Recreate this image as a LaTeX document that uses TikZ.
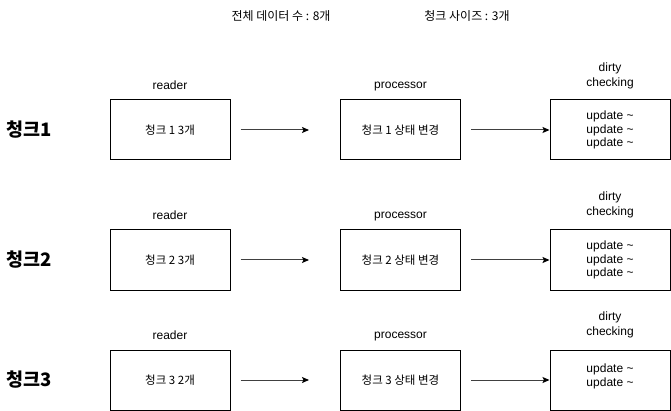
\documentclass[tikz,border=0pt]{standalone}
\usepackage{fontspec}
\setmainfont{Liberation Sans}
\newfontfamily\kr{Noto Sans CJK KR}
\usetikzlibrary{arrows.meta}
\begin{document}
\begin{tikzpicture}[x=1pt,y=-1pt,
  box/.style={draw, line width=1pt, minimum width=120pt, minimum height=60pt, inner sep=0pt, align=center},
  krtext/.style={font=\kr\fontsize{11.5}{13}\selectfont},
  uptext/.style={font=\fontsize{12}{13.8}\selectfont, align=center, inner sep=0pt},
  lbl/.style={font=\fontsize{12}{15.5}\selectfont, inner sep=0pt, align=center},
  head/.style={font=\kr\fontsize{12}{14}\selectfont, inner sep=0pt},
  rowlbl/.style={font=\kr\bfseries\fontsize{18.5}{20}\selectfont, inner sep=0pt},
  flow/.style={-{Stealth[length=7pt,width=6pt,inset=1.5pt,color=black]}, line width=1pt, draw=black!75}
]
\useasboundingbox (0,0) rectangle (671,411);

\node[head] (h1) at (281,16) {전체 데이터 수 : 8개};
\node[head] (h2) at (467,16) {청크 사이즈 : 3개};

% Row 1
\node[rowlbl] (c1) at (29,130) {청크1};
\node[box,krtext] (r1) at (170,130) {청크 1 3개};
\node[box,krtext] (p1) at (400.5,130) {청크 1 상태 변경};
\node[box,uptext] (d1) at (610,130) {update \textasciitilde\\update \textasciitilde\\update \textasciitilde};
\node[lbl] (rl1) at (170,85) {reader};
\node[lbl] (pl1) at (400.5,87) {processor};
\node[lbl] (dl1) at (610,76) {dirty\\checking};
\draw[flow, shorten <=10pt, shorten >=31pt] (r1) -- (p1);
\draw[flow, shorten <=10pt] (p1) -- (d1);

% Row 2
\node[rowlbl] (c2) at (29,260) {청크2};
\node[box,krtext] (r2) at (170,260) {청크 2 3개};
\node[box,krtext] (p2) at (400.5,260) {청크 2 상태 변경};
\node[box,uptext] (d2) at (610,260) {update \textasciitilde\\update \textasciitilde\\update \textasciitilde};
\node[lbl] (rl2) at (170,215) {reader};
\node[lbl] (pl2) at (400.5,217) {processor};
\node[lbl] (dl2) at (610,205) {dirty\\checking};
\draw[flow, shorten <=10pt, shorten >=31pt] (r2) -- (p2);
\draw[flow, shorten <=10pt] (p2) -- (d2);

% Row 3
\node[rowlbl] (c3) at (29,380) {청크3};
\node[box,krtext] (r3) at (170,380) {청크 3 2개};
\node[box,krtext] (p3) at (400.5,380) {청크 3 상태 변경};
\node[box] (d3) at (610,380) {};
\node[uptext] (d3t) at (610,376) {update \textasciitilde\\update \textasciitilde};
\node[lbl] (rl3) at (170,335) {reader};
\node[lbl] (pl3) at (400.5,337) {processor};
\node[lbl] (dl3) at (610,325) {dirty\\checking};
\draw[flow, shorten <=10pt, shorten >=31pt] (r3) -- (p3);
\draw[flow, shorten <=10pt] (p3) -- (d3);
\end{tikzpicture}
\end{document}
